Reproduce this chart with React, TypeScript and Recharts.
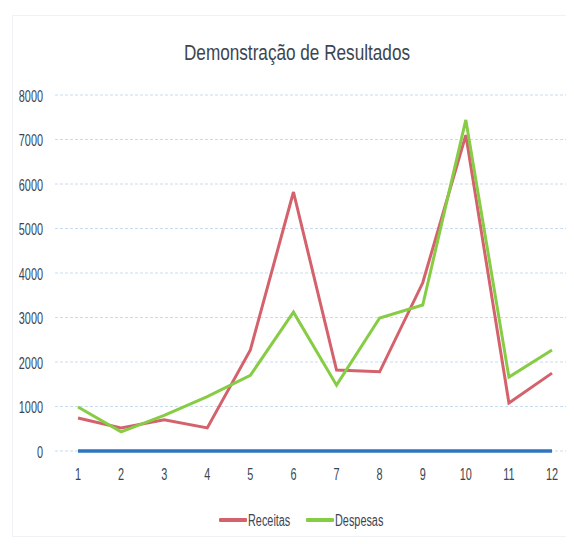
import React from "react";
import { LineChart, Line, XAxis, YAxis, CartesianGrid, Legend } from "recharts";

const months = ["1", "2", "3", "4", "5", "6", "7", "8", "9", "10", "11", "12"];
const receitas = [740, 520, 700, 520, 2270, 5820, 1820, 1780, 3780, 7100, 1080, 1750];
const despesas = [990, 430, 800, 1220, 1700, 3120, 1480, 2990, 3280, 7440, 1660, 2270];
const base = [0, 0, 0, 0, 0, 0, 0, 0, 0, 0, 0, 0];
const yTicks = [0, 1000, 2000, 3000, 4000, 5000, 6000, 7000, 8000];
const legendItems = [
  { name: "Receitas", color: "#d4626c", w: 46 },
  { name: "Despesas", color: "#86cc45", w: 54 },
];

const data = months.map((m, i) => ({
  month: m,
  Receitas: receitas[i],
  Despesas: despesas[i],
  Base: base[i],
}));

const FONT = "'Liberation Sans', Arial, sans-serif";
const TEXT = "#3b4652";

const YTick = (props: any) => {
  const { x, y, payload } = props;
  return (
    <text
      transform={`translate(${x},${y + 1}) scale(0.64,1)`}
      textAnchor="end"
      dominantBaseline="central"
      fontSize={17}
      fontFamily={FONT}
      fill={TEXT}
    >
      {payload.value}
    </text>
  );
};

const XTick = (props: any) => {
  const { x, y, payload } = props;
  return (
    <text
      transform={`translate(${x},${y + 23.5}) scale(0.64,1)`}
      textAnchor="middle"
      dominantBaseline="central"
      fontSize={17}
      fontFamily={FONT}
      fill={TEXT}
    >
      {payload.value}
    </text>
  );
};

const LegendContent = () => (
  <div
    style={{
      display: "flex",
      justifyContent: "center",
      alignItems: "center",
      height: 24,
      paddingLeft: 32,
      gap: 12,
    }}
  >
    {legendItems.map((it) => (
      <div key={it.name} style={{ display: "flex", alignItems: "center" }}>
        <div style={{ width: 28, height: 4, background: it.color, borderRadius: 1 }} />
        <svg width={it.w} height={24} style={{ marginLeft: 1 }}>
          <text
            transform="translate(0,13) scale(0.68,1)"
            dominantBaseline="central"
            fontSize={16}
            fontFamily={FONT}
            fill={TEXT}
          >
            {it.name}
          </text>
        </svg>
      </div>
    ))}
  </div>
);

export default function App() {
  return (
    <div style={{ position: "relative", width: 566, height: 530, fontFamily: FONT }}>
      <div
        style={{
          position: "absolute",
          left: 4,
          top: 7,
          width: 555,
          height: 520,
          border: "1px solid #eef2f7",
          pointerEvents: "none",
        }}
      />
      <div
        style={{
          position: "absolute",
          left: 0,
          top: 32,
          width: 578,
          textAlign: "center",
          fontSize: 22,
          color: "#3c4650",
          fontFamily: FONT,
          transform: "scaleX(0.78)",
          transformOrigin: "center",
        }}
      >
        Demonstração de Resultados
      </div>
      <LineChart
        width={566}
        height={530}
        data={data}
        margin={{ top: 87, right: 6, left: 0, bottom: 6 }}
      >
        <CartesianGrid vertical={false} stroke="#c9dcef" strokeDasharray="3 2" />
        <XAxis
          dataKey="month"
          height={57}
          axisLine={false}
          tickLine={false}
          tickSize={0}
          tickMargin={0}
          padding={{ left: 23, right: 16 }}
          tick={<XTick />}
        />
        <YAxis
          width={47}
          domain={[0, 8000]}
          ticks={yTicks}
          axisLine={false}
          tickLine={false}
          tickSize={0}
          tickMargin={12}
          tick={<YTick />}
        />
        <Legend wrapperStyle={{ height: 24 }} content={<LegendContent />} />
        <Line
          dataKey="Base"
          stroke="#2e74c0"
          strokeWidth={3.5}
          dot={false}
          legendType="none"
          isAnimationActive={false}
        />
        <Line
          dataKey="Receitas"
          stroke="#d4626c"
          strokeWidth={3}
          dot={false}
          isAnimationActive={false}
        />
        <Line
          dataKey="Despesas"
          stroke="#86cc45"
          strokeWidth={3}
          dot={false}
          isAnimationActive={false}
        />
      </LineChart>
    </div>
  );
}
